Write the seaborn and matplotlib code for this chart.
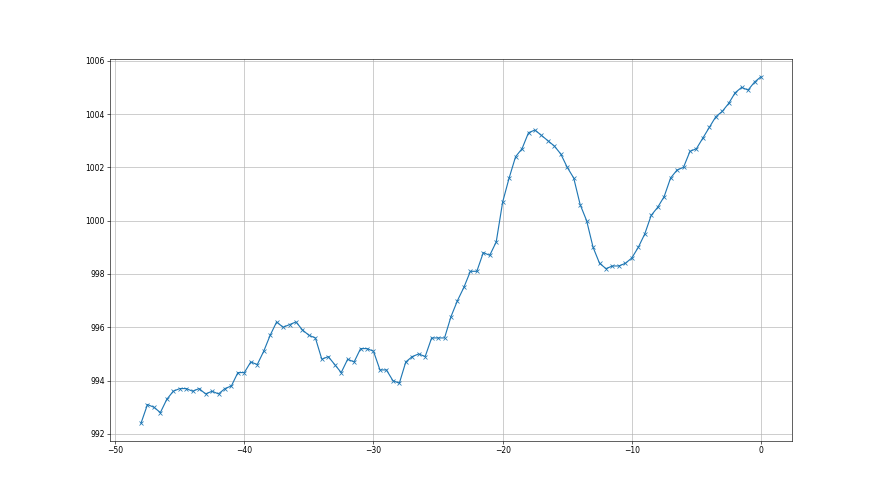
import numpy as np
import seaborn as sns
import matplotlib
matplotlib.use("Agg")
import matplotlib.pyplot as plt

# time offsets (half-unit steps) and readings
offsets = np.arange(-48, 0.5, 0.5)
pressure = [
    992.4, 993.1, 993.0, 992.8, 993.3, 993.6, 993.7, 993.7, 993.6, 993.7,
    993.5, 993.6, 993.5, 993.7, 993.8, 994.3, 994.3, 994.7, 994.6, 995.1,
    995.7, 996.2, 996.0, 996.1, 996.2, 995.9, 995.7, 995.6, 994.8, 994.9,
    994.6, 994.3, 994.8, 994.7, 995.2, 995.2, 995.1, 994.4, 994.4, 994.0,
    993.9, 994.7, 994.9, 995.0, 994.9, 995.6, 995.6, 995.6, 996.4, 997.0,
    997.5, 998.1, 998.1, 998.8, 998.7, 999.2, 1000.7, 1001.6, 1002.4, 1002.7,
    1003.3, 1003.4, 1003.2, 1003.0, 1002.8, 1002.5, 1002.0, 1001.6, 1000.6, 1000.0,
    999.0, 998.4, 998.2, 998.3, 998.3, 998.4, 998.6, 999.0, 999.5, 1000.2,
    1000.5, 1000.9, 1001.6, 1001.9, 1002.0, 1002.6, 1002.7, 1003.1, 1003.5, 1003.9,
    1004.1, 1004.4, 1004.8, 1005.0, 1004.9, 1005.2, 1005.4,
]

fig, ax = plt.subplots(figsize=(16, 9), dpi=55)
sns.lineplot(x=offsets, y=pressure, ax=ax, color="#1f77b4", marker="x",
             markeredgecolor="#1f77b4", markeredgewidth=1.0, linewidth=1.5)
ax.grid(True, color="#b0b0b0", linewidth=0.8)
ax.set_xlabel("")
ax.set_ylabel("")

fig.savefig("out.png", dpi=55)
